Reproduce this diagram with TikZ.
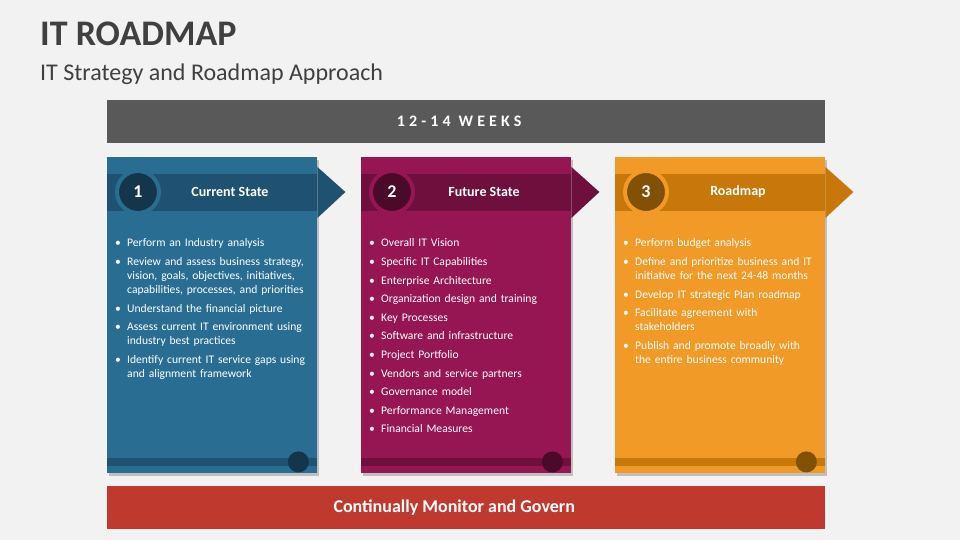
\documentclass[tikz,border=0pt]{standalone}
\usepackage{fontspec}
\setmainfont{Carlito}
\newfontfamily\spacedfont[LetterSpace=26]{Carlito}
\usetikzlibrary{positioning, calc}
\definecolor{pagebg}{RGB}{242,242,242}
\definecolor{titleink}{RGB}{64,64,64}
\definecolor{weekbar}{RGB}{89,89,89}
\definecolor{governbar}{RGB}{192,57,47}
\definecolor{curmain}{RGB}{41,109,147}
\definecolor{curband}{RGB}{31,82,112}
\definecolor{curdot}{RGB}{20,54,77}
\definecolor{futmain}{RGB}{150,21,83}
\definecolor{futband}{RGB}{110,15,62}
\definecolor{futdot}{RGB}{75,10,42}
\definecolor{mapmain}{RGB}{242,154,40}
\definecolor{mapband}{RGB}{200,119,11}
\definecolor{mapdot}{RGB}{131,80,8}

\newcommand{\stageitem}[1]{\par\hangindent=12pt\hangafter=1\noindent\makebox[12pt][l]{\textbullet}#1\par}
\newcommand{\curitems}{%
  \stageitem{Perform an Industry analysis}
  \stageitem{Review and assess business strategy,\newline vision, goals, objectives, initiatives,\newline capabilities, processes, and priorities}
  \stageitem{Understand the financial picture}
  \stageitem{Assess current IT environment using\newline industry best practices}
  \stageitem{Identify current IT service gaps using\newline and alignment framework}}
\newcommand{\futitems}{%
  \stageitem{Overall IT Vision}
  \stageitem{Specific IT Capabilities}
  \stageitem{Enterprise Architecture}
  \stageitem{Organization design and training}
  \stageitem{Key Processes}
  \stageitem{Software and infrastructure}
  \stageitem{Project Portfolio}
  \stageitem{Vendors and service partners}
  \stageitem{Governance model}
  \stageitem{Performance Management}
  \stageitem{Financial Measures}}
\newcommand{\mapitems}{%
  \stageitem{Perform budget analysis}
  \stageitem{Define and prioritize business and IT\newline initiative for the next 24-48 months}
  \stageitem{Develop IT strategic Plan roadmap}
  \stageitem{Facilitate agreement with\newline stakeholders}
  \stageitem{Publish and promote broadly with\newline the entire business community}}

\tikzset{
  fullbar/.style={rectangle, anchor=north west, minimum width=718pt, minimum height=43pt, inner sep=0pt, fill=#1},
  bartext/.style={inner sep=0pt, text=white, font=\fontsize{#1}{20}\selectfont\bfseries},
  stagecol/.style={rectangle, anchor=north west, minimum width=210pt, minimum height=316pt, inner sep=0pt, fill=#1},
  stagenum/.style={circle, minimum size=42pt, inner sep=0pt, line width=4pt, text=white, font=\fontsize{18}{20}\selectfont\bfseries},
  stagehead/.style={inner sep=0pt, text=white, font=\fontsize{14}{16}\selectfont\bfseries},
  stagetext/.style={anchor=north west, inner sep=0pt, text width=215pt, align=left, text=white,
    font=\fontsize{11.6}{14}\selectfont\setlength{\parskip}{4.6pt}},
}

\begin{document}
\begin{tikzpicture}[x=1pt, y=-1pt]
  \fill[pagebg] (0,0) rectangle (960,540);
  \useasboundingbox (0,0) rectangle (960,540);

  % titles
  \node[anchor=base west, inner sep=0pt, text=titleink, font=\fontsize{36}{40}\selectfont\bfseries] (title) at (40,46) {IT ROADMAP};
  \node[anchor=base west, inner sep=0pt, text=titleink, font=\fontsize{24}{28}\selectfont] (subtitle) at (40,81) {IT Strategy and Roadmap Approach};

  % top and bottom bars
  \node[fullbar=weekbar] (weeks) at (107,100) {};
  \node[inner sep=0pt, text=white, font=\spacedfont\fontsize{16}{20}\selectfont\bfseries] (weekstext) at ($(weeks.center)+(-7,0)$) {12-14 WEEKS};
  \node[fullbar=governbar] (govern) at (107,486) {};
  \node[bartext=18] (governtext) at ($(govern.center)+(-12,0)$) {Continually Monitor and Govern};

  % stages
  \foreach \n/\xpos/\main/\band/\dot/\head/\items in {
      1/107/curmain/curband/curdot/Current State/\curitems,
      2/361/futmain/futband/futdot/Future State/\futitems,
      3/615/mapmain/mapband/mapdot/Roadmap/\mapitems}{
    \fill[black!25] (\xpos+2,160) rectangle (\xpos+212,476);
    \node[stagecol=\main] (col\n) at (\xpos,157) {};
    \fill[\band] ($(col\n.north west)+(0,17)$) rectangle ($(col\n.north east)+(0,54)$);
    \fill[\band] ($(col\n.north east)+(0,10)$) -- ($(col\n.north east)+(28,35)$) -- ($(col\n.north east)+(0,61)$) -- cycle;
    \node[stagenum, fill=\dot, draw=\main] (num\n) at ($(col\n.north west)+(31,35)$) {\n};
    \node[stagehead] (head\n) at ($(col\n.north west)+(123,35)$) {\head};
    \node[stagetext] (list\n) at ($(col\n.north west)+(8,71)$) {\items};
    \fill[\band] ($(col\n.south west)+(0,-15)$) rectangle ($(col\n.south east)+(0,-7)$);
    \fill[\dot] ($(col\n.south east)+(-19,-11.5)$) circle (10.5);
  }
\end{tikzpicture}
\end{document}
